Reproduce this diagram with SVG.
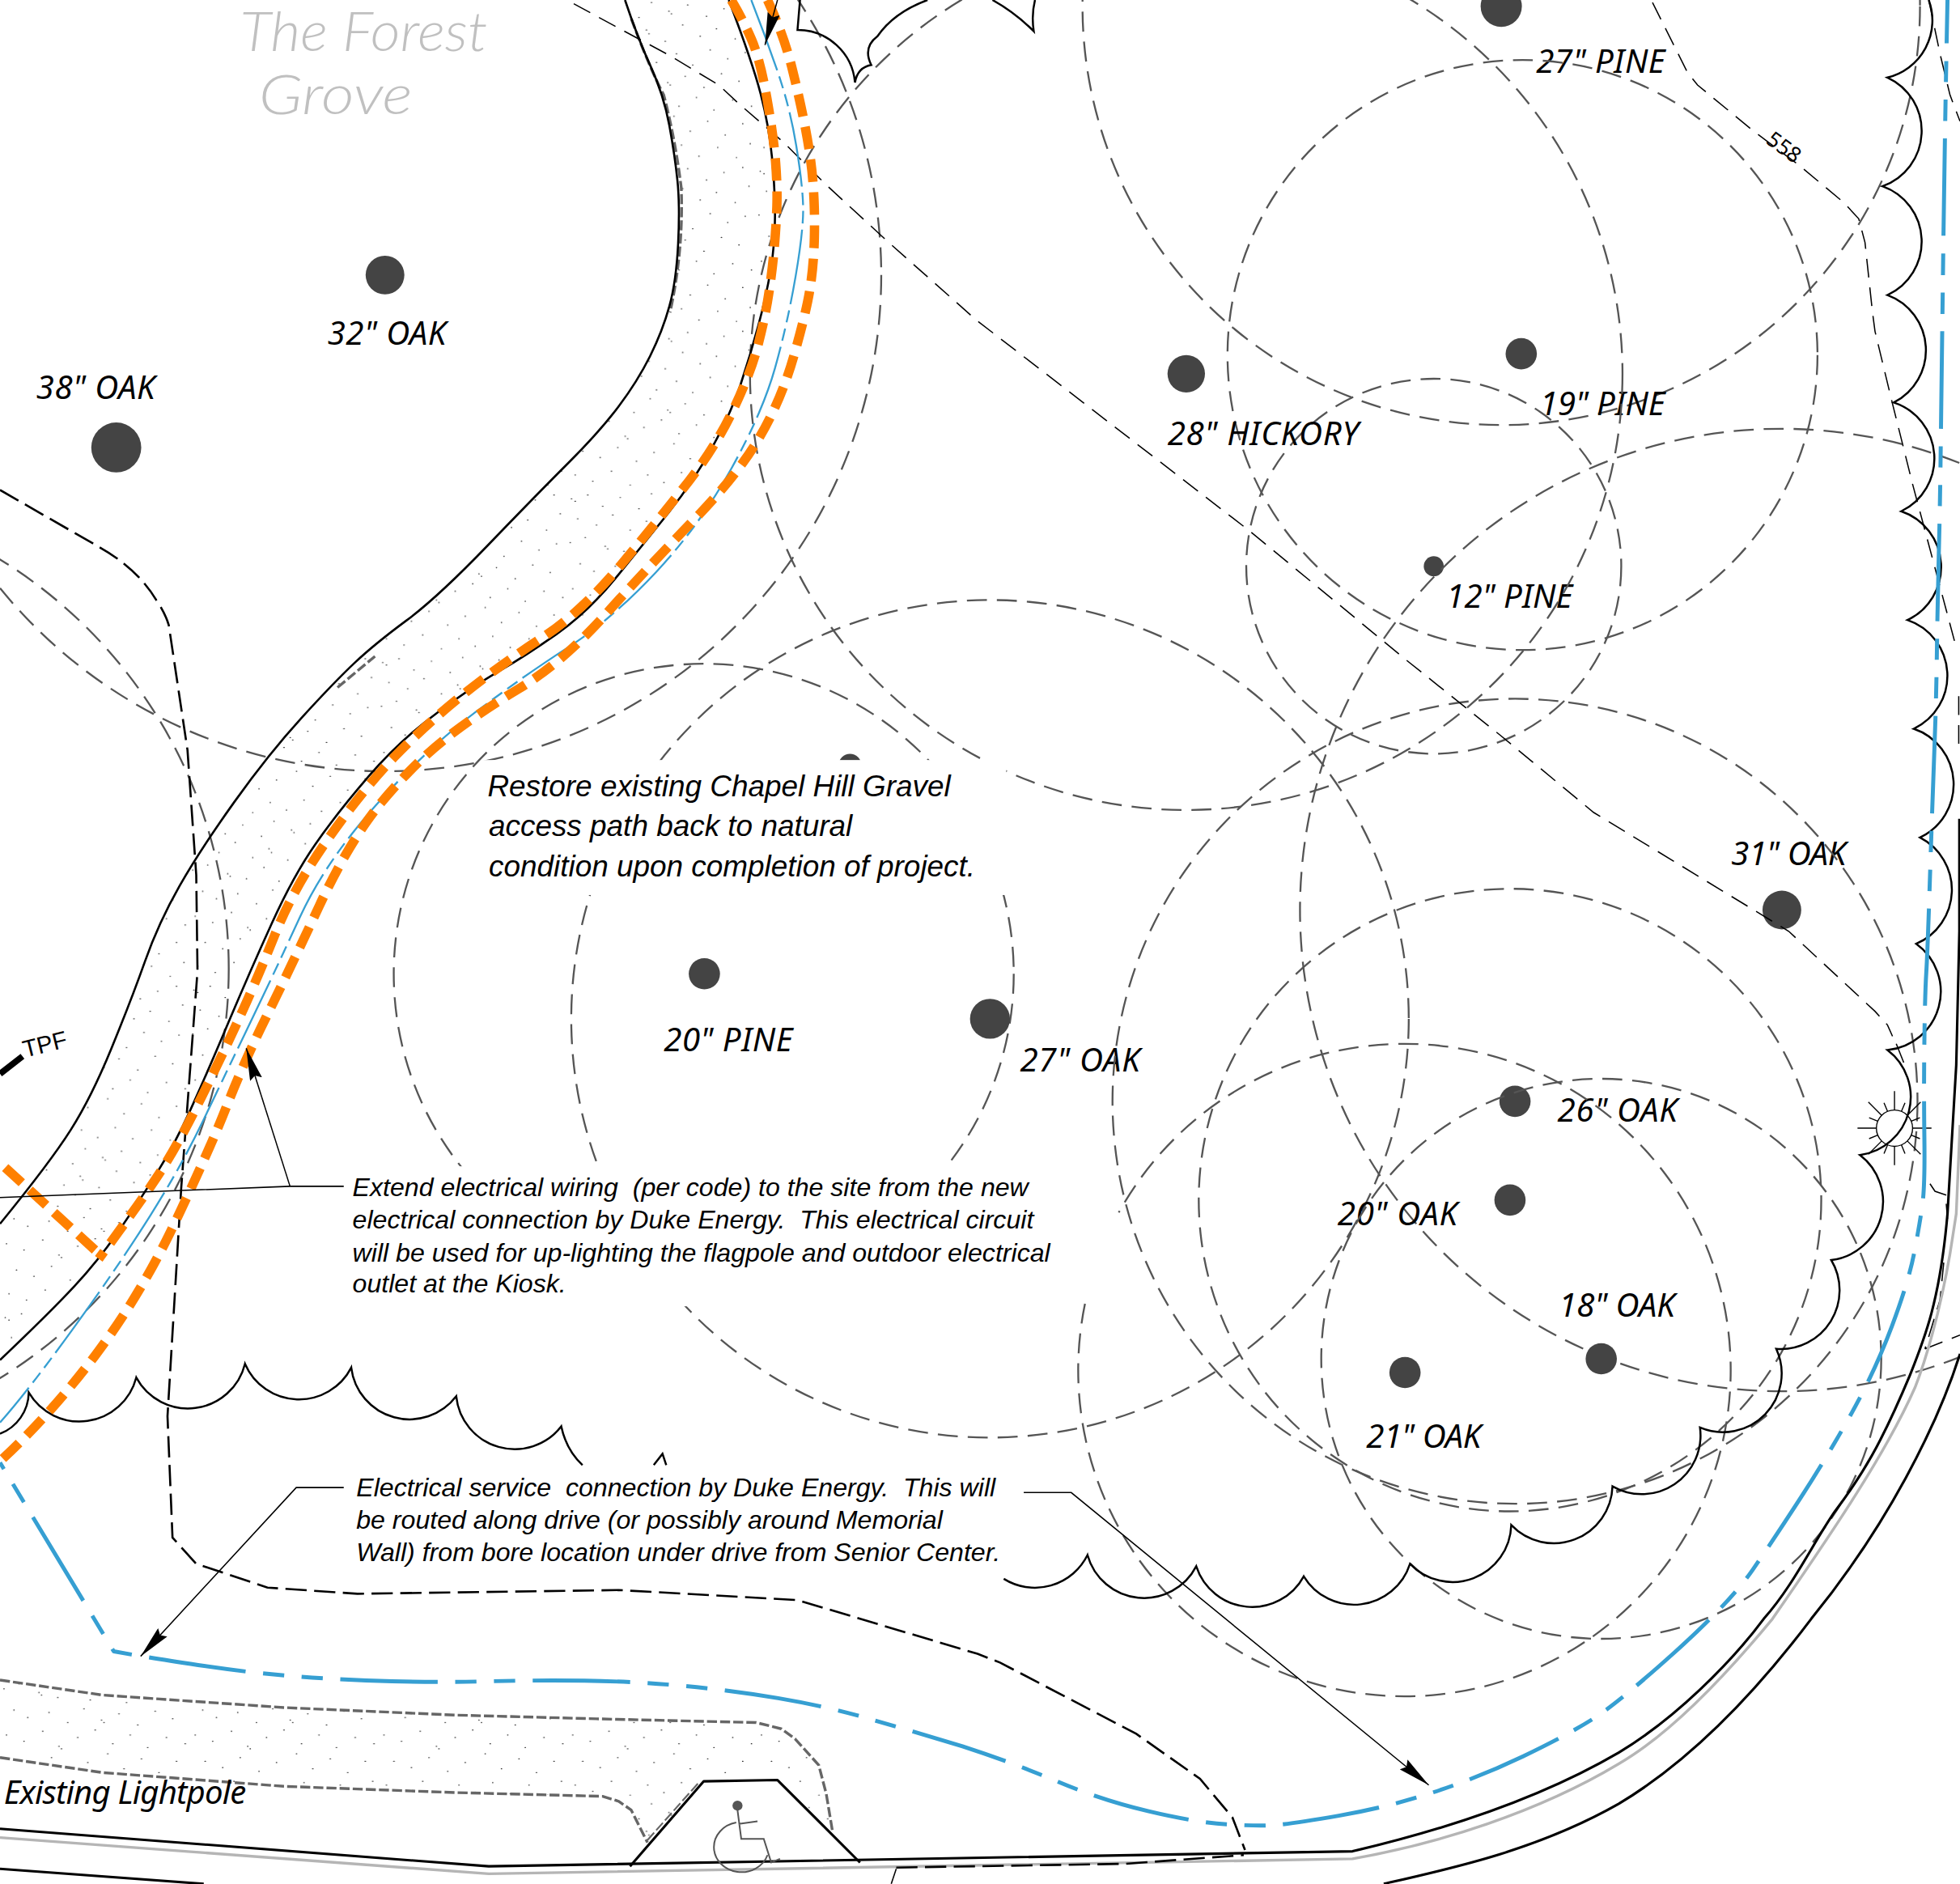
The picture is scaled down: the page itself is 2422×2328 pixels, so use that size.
<svg xmlns="http://www.w3.org/2000/svg" width="2422" height="2328" viewBox="0 0 2422 2328">
<style>
.canopy{fill:none;stroke:#555;stroke-width:1.5;stroke-dasharray:16 8}
.dot{fill:#444}
.label{font-family:"Noto Sans","DejaVu Sans",sans-serif;font-style:italic;font-size:26px;fill:#000}
.note{font-family:"Liberation Sans",Arial,sans-serif;font-style:italic;fill:#000;white-space:pre}
.n1{font-size:23.900px}
.n2{font-size:20.800px}
.title{font-family:"Lato","Liberation Sans",sans-serif;font-style:italic;font-weight:300;font-size:44px;fill:#c0c0c0}
.ln{fill:none;stroke:#000;stroke-linejoin:round}
.road{stroke-width:2}
.greyroad{fill:none;stroke:#b5b5b5;stroke-width:2.2;stroke-linejoin:round}
.contour{fill:none;stroke:#000;stroke-width:1;stroke-dasharray:15 8}
.bound{fill:none;stroke:#000;stroke-width:1.7;stroke-dasharray:17 6}
.scallop{fill:none;stroke:#000;stroke-width:1.6;stroke-linejoin:miter}
.orange{fill:none;stroke:#ff8000;stroke-width:7.500;stroke-dasharray:18 8.500;stroke-linejoin:round}
.blue{fill:none;stroke:#369fd2;stroke-width:3.200;stroke-dasharray:78 14 17 14 17 14;stroke-dashoffset:103;stroke-linejoin:round}
.bluethin{fill:none;stroke:#369fd2;stroke-width:1.500;stroke-dasharray:60 5 10 5 10 5;stroke-linejoin:round}
.edge{fill:none;stroke:#666;stroke-width:2.200;stroke-dasharray:8 2.500;stroke-linejoin:round}
.lead{fill:none;stroke:#000;stroke-width:1}
.arrow{marker-end:url(#ah)}
</style>
<defs>
<marker id="ah" viewBox="0 0 26 10" refX="26" refY="5" markerWidth="26" markerHeight="10" orient="auto" markerUnits="userSpaceOnUse"><polygon points="0,0 26,5 0,10 3,5" fill="#000"/></marker>
<pattern id="stip" width="151" height="131" patternUnits="userSpaceOnUse">
<path d="M4 6h.4M7 8h.4M17 3h.4M29 12h.4M43 5h.4M58 14h.4M68 2h.4M82 9h.4M84 11h.4M97 4h.4M112 13h.4M126 7h.4M141 3h.4M9 22h.4M24 27h.4M37 19h.4M51 31h.4M64 24h.4M66 27h.4M79 33h.4M93 20h.4M107 29h.4M120 23h.4M135 31h.4M146 18h.4M3 41h.4M15 37h.4M31 44h.4M33 46h.4M46 48h.4M60 39h.4M72 50h.4M88 43h.4M101 52h.4M115 40h.4M129 47h.4M143 42h.4M11 58h.4M22 64h.4M39 60h.4M54 68h.4M67 57h.4M81 66h.4M83 68h.4M95 61h.4M110 70h.4M124 59h.4M138 65h.4M5 78h.4M19 83h.4M34 75h.4M47 87h.4M49 89h.4M62 80h.4M76 74h.4M90 85h.4M104 78h.4M118 88h.4M133 80h.4M148 85h.4M13 99h.4M27 104h.4M41 96h.4M56 107h.4M70 100h.4M86 93h.4M99 105h.4M113 97h.4M127 108h.4M141 99h.4M7 118h.4M21 123h.4M36 115h.4M51 126h.4M65 118h.4M78 124h.4M92 116h.4M106 125h.4M121 118h.4M136 126h.4M147 115h.4" stroke="#222" stroke-width=".8" stroke-linecap="round" fill="none"/>
</pattern>
</defs>
<g transform="scale(1.54464)">
<g id="gravel">
<path fill="url(#stip)" d="M500,0 Q510,30 520.500,53 Q531,76 535.500,100.500 Q540,125 542,145 Q544,165 542.500,195 Q541,225 535.500,245 Q530,265 520,285 Q510,305 495,325 Q480,345 455,370 Q430,395 390,436.500 Q350,478 325,496.500 Q300,515 284,530 Q268,545 241.500,574 Q215,603 187.500,641.500 Q160,680 143.500,709 Q127,738 116,769 Q105,800 89,839 Q73,878 56.500,904 Q40,930 0,979V1088L40,1050 79,1008 112,960 140,915 165,860 200,777 235,700 270,650 320,592 380,548 420,525 470,490 515,435 555,385 585,330 600,285 613,237 620,195 620,150 615,100 602,50 583,0Z"/>
<path fill="url(#stip)" d="M0,1344 82,1356 227,1366 364,1372 477,1375 605,1378 636,1391 655,1412 666,1465 622,1424 563,1425 518,1474 505,1448 482,1437 364,1434 227,1429 82,1418 0,1406Z"/>
<path class="edge" d="M0,1344 82,1356 227,1366 364,1372 477,1375 605,1378 625,1383 636,1391 655,1412 661,1435 666,1465"/>
<path class="edge" d="M0,1406 82,1418 227,1429 364,1434 482,1437 495,1441 505,1448 518,1474"/>
<path class="edge" style="stroke-width:1.4" d="M518,1472 559,1426"/>
<path class="edge" d="M505,15 Q520,55 531,76 Q540,110 545,150 Q547,200 536,250"/>
<path class="edge" d="M270,550 300,525"/>
</g>
<g id="trees">
<g id="tree-27-pine-top"><circle class="canopy" cx="1201" cy="5" r="335"/><circle class="dot" cx="1201" cy="5" r="16.500"/><text class="label" x="1229" y="58" textLength="103">27" PINE</text></g>
<g id="tree-19-pine"><circle class="canopy" cx="1218" cy="284" r="236"/><circle class="dot" cx="1217" cy="283" r="12.500"/><text class="label" x="1232" y="332" textLength="100">19" PINE</text></g>
<g id="tree-12-pine"><circle class="canopy" cx="1147" cy="453" r="150"/><circle class="dot" cx="1147" cy="453" r="8"/><text class="label" x="1157" y="486" textLength="101">12" PINE</text></g>
<g id="tree-28-hickory"><circle class="canopy" cx="949" cy="299" r="349"/><circle class="dot" cx="949" cy="299" r="15"/><text class="label" x="934" y="356" textLength="153">28" HICKORY</text></g>
<g id="tree-32-oak"><circle class="canopy" cx="308" cy="220" r="397"/><circle class="dot" cx="308" cy="220" r="15.500"/><text class="label" x="262" y="276" textLength="95">32" OAK</text></g>
<g id="tree-38-oak"><circle class="dot" cx="93" cy="358" r="20"/><text class="label" x="29" y="319" textLength="95">38" OAK</text></g>
<g id="tree-off-west"><circle class="canopy" cx="-201.500" cy="775" r="384.500"/></g>
<g id="tree-20-pine"><circle class="canopy" cx="563" cy="779" r="248"/><circle class="dot" cx="563.500" cy="779" r="12.500"/><text class="label" x="531" y="841" textLength="103">20" PINE</text></g>
<g id="tree-27-oak"><circle class="canopy" cx="792" cy="815" r="335"/><circle class="dot" cx="792" cy="815" r="16"/><text class="label" x="816" y="857" textLength="96">27" OAK</text></g>
<g id="tree-31-oak"><circle class="canopy" cx="1425" cy="728" r="385"/><circle class="dot" cx="1425.500" cy="728" r="15.500"/><text class="label" x="1385" y="692" textLength="92">31" OAK</text></g>
<g id="tree-26-oak"><circle class="canopy" cx="1212" cy="881" r="322"/><circle class="dot" cx="1212" cy="881" r="12.500"/><text class="label" x="1246" y="897" textLength="96">26" OAK</text></g>
<g id="tree-20-oak"><circle class="canopy" cx="1208" cy="960" r="249"/><circle class="dot" cx="1208" cy="960" r="12.500"/><text class="label" x="1070" y="980" textLength="96">20" OAK</text></g>
<g id="tree-18-oak"><circle class="canopy" cx="1281" cy="1087" r="224"/><circle class="dot" cx="1281" cy="1087" r="12.500"/><text class="label" x="1247" y="1053" textLength="93">18" OAK</text></g>
<g id="tree-21-oak"><path class="canopy" d="M868,1043A261 261 0 1 0 895,970"/><circle class="dot" cx="1124" cy="1098" r="12.500"/><text class="label" x="1093" y="1158" textLength="92">21" OAK</text></g>
<g id="tree-hidden"><circle class="dot" cx="680" cy="612" r="9"/></g>
</g>
<rect x="385" y="608" width="420" height="108" fill="#fff"/>
<rect x="275" y="933" width="585" height="112" fill="#fff"/>
<g id="contours">
<path class="contour" d="M459,3 494,22 535,44 575,68 590,82 627,114 660,147 711,194 781,256 1000,425 1125,528 1200,588 1275,650 1431,745 1500,809 1510,820 1514,829"/>
<path class="lead" d="M1517,835 1523,850"/>
<path class="contour" d="M1322,2 1350,58 1358,68 1403,105 1439,132 1475,162 1487,175 1492,194 1498,250 1500,265 1513,319 1530,387 1565,518"/>
<path class="contour" d="M1543,0 1552,43 1560,76 1568,97"/>
<path class="contour" d="M1567,557V597"/>
<path class="lead" d="M1544,947 1548,953 1557,956M1557,963 1558,975"/>
<path class="contour" d="M1555,1010 1552,1040 1540,1079"/>
<path class="contour" d="M1540,1079 1568,1068"/>
<text transform="translate(1412 114) rotate(36)" style="font-family:'Noto Sans',sans-serif;font-size:17px">558</text>
</g>
<g id="road">
<path class="greyroad" d="M1568,900 1565,971 1560,1003C1552,1050 1540,1090 1532,1110 1510,1160 1470,1220 1418,1295 1385,1335 1340,1385 1295,1411 1230,1450 1150,1475 1082,1487L391,1499 0,1470"/>
<path class="ln road" d="M1567.500,655V745L1565,852 1558,971C1552,1040 1540,1070 1528,1100 1505,1155 1490,1180 1468,1209 1450,1235 1435,1268 1411,1295 1385,1330 1340,1375 1295,1402 1230,1440 1150,1465 1082,1481L391,1493 0,1463"/>
<path class="ln road" d="M1568,1083C1550,1140 1510,1220 1449,1295 1400,1360 1350,1410 1295,1443 1230,1480 1160,1495 1107,1507"/>
<path class="ln road" d="M0,1495 163,1507"/>
<path class="ln road" d="M504,1493 563,1425 622,1424 688,1490"/>
<path class="bound" d="M717,1494 900,1491 995,1484"/>
<path class="lead" d="M713,1507 717,1495"/>
</g>
<g id="accessible-symbol" fill="none" stroke="#555" stroke-width="1.3">
<ellipse cx="590" cy="1444.500" rx="4" ry="4" fill="#555" stroke="none"/>
<path d="M590,1448 593,1471H611L617,1490 624,1487M591,1459 606,1457"/>
<path d="M589,1458A22 20 0 1 0 614,1484"/>
</g>
<g id="edges-solid">
<path class="ln" stroke-width="1.7" d="M500,0 Q510,30 520.500,53 Q531,76 535.500,100.500 Q540,125 542,145 Q544,165 542.500,195 Q541,225 535.500,245 Q530,265 520,285 Q510,305 495,325 Q480,345 455,370 Q430,395 390,436.500 Q350,478 325,496.500 Q300,515 284,530 Q268,545 241.500,574 Q215,603 187.500,641.500 Q160,680 143.500,709 Q127,738 116,769 Q105,800 89,839 Q73,878 56.500,904 Q40,930 0,979"/>
<path class="ln" stroke-width="1.7" d="M583,0 Q602,50 608.500,75 Q615,100 617.500,125 Q620,150 620,172.500 Q620,195 616.500,216 Q613,237 606.500,261 Q600,285 592.500,307.500 Q585,330 570,357.500 Q555,385 535,410 Q515,435 492.500,462.500 Q470,490 445,507.500 Q420,525 400,536.500 Q380,548 350,570 Q320,592 295,621 Q270,650 252.500,675 Q235,700 217.500,738.500 Q200,777 182.500,818.500 Q165,860 152.500,887.500 Q140,915 126,937.500 Q112,960 95.500,984 Q79,1008 59.500,1029 Q40,1050 0,1088"/>
<path class="bound" d="M0,392 80,438 Q110,455 125,480 Q132,490 135,500 L150,600 157,700 158,777 145,950 134,1133 138,1230 157,1251 214,1270 286,1275 495,1272 638,1280 782,1323 800,1330 909,1387 960,1423 986,1454 996,1480"/>
</g>
<g id="sun" transform="translate(1515.600 902.500)" fill="#fff" stroke="#000" stroke-width=".9">
<circle r="14.500"/>
<path d="M-29.600 0H-14.500M14.500 0H29.600M0-29.600V-14.500M0 14.500V29.600M-20.900-20.900L-10.250-10.250M20.900-20.900L10.250-10.250M-20.900 20.900L-10.250 10.250M20.900 20.900L10.250 10.250M-20.300-8.400L-13.400-5.550M20.300-8.400L13.400-5.550M-20.300 8.400L-13.400 5.550M20.300 8.400L13.400 5.550M-8.400-20.300L-5.550-13.400M8.400-20.300L5.550-13.400M-8.400 20.300L-5.550 13.400M8.400 20.300L5.550 13.400"/>
</g>
<g id="clouds">
<path class="scallop" d="M0,1147A36 36 0 0 0 23,1114A47 47 0 0 0 109,1102A47 47 0 0 0 196,1091A47 47 0 0 0 281,1094A47 47 0 0 0 365,1117A47 47 0 0 0 449,1141Q453,1160 466,1172"/>
<path class="scallop" d="M523,1172 530,1163 533,1172"/>
<path class="scallop" d="M803,1263A47 47 0 0 0 870,1244A47 47 0 0 0 957,1253A47 47 0 0 0 1043,1261A47 47 0 0 0 1128,1251A47 47 0 0 0 1209,1220A47 47 0 0 0 1290,1189A47 47 0 0 0 1360,1142A47 47 0 0 0 1421,1079A47 47 0 0 0 1465,1008A47 47 0 0 0 1488,924A47 47 0 0 0 1510,840A47 47 0 0 0 1533,755A47 47 0 0 0 1536,670A47 47 0 0 0 1531,583A47 47 0 0 0 1526,496A47 47 0 0 0 1521,409A47 47 0 0 0 1515,322A47 47 0 0 0 1510,236A47 47 0 0 0 1506,149A47 47 0 0 0 1510,62A47 47 0 0 0 1543,0"/>
<path class="scallop" d="M640,0 638,24A46 46 0 0 1 684,66Q686,54 697,52Q690,38 702,29Q715,10 742,0M794,0Q812,10 827,25Q825,12 828,0"/>
</g>
<g id="wiring">
<path class="bluethin" d="M601,0 Q612,28 622,57 Q632,86 637,116.500 Q642,147 642.500,165 Q643,183 636.500,221 Q630,259 620,294.500 Q610,330 585,375 Q560,420 525,457.500 Q490,495 455,517.500 Q420,540 380,570 Q340,600 300,645 Q260,690 240,733.500 Q220,777 200,818.500 Q180,860 162.500,896.500 Q145,933 120.500,972 Q96,1011 59.500,1061.500 Q23,1112 0,1138"/>
<path class="orange" d="M585,0 Q594,15 601,31 Q608,47 613.500,78.500 Q619,110 620.500,130 Q622,150 621.500,165 Q621,180 619.500,197.500 Q618,215 615,235 Q612,255 606,277.500 Q600,300 586,329 Q572,358 551,385 Q530,412 497.500,451 Q465,490 432.500,511 Q400,532 370,556 Q340,580 315,606 Q290,632 262.500,671 Q235,710 220,747.500 Q205,785 190,817.500 Q175,850 157.500,885 Q140,920 125,942.500 Q110,965 79,1007"/>
<path class="orange" d="M614,0 Q627,28 633.500,54 Q640,80 644.500,103.500 Q649,127 650.500,147.500 Q652,168 651.500,190 Q651,212 648,231 Q645,250 635,285 Q625,320 607.500,350 Q590,380 555,416 Q520,452 485,491 Q450,530 415,551 Q380,572 355,592 Q330,612 305,642 Q280,672 255.500,724.500 Q231,777 213,813.500 Q195,850 181.500,884.500 Q168,919 140,978 Q112,1037 76,1084.500 Q40,1132 0,1169"/>
<path class="orange" d="M76,1000 3,933"/>
<path class="blue" d="M0,1170 91,1321 L105,1323.500 Q119,1326 158.500,1332 Q198,1338 236.500,1341 Q275,1344 313.500,1345 Q352,1346 390.500,1345 Q429,1344 467.500,1344.500 Q506,1345 545,1348.500 Q584,1352 622.500,1358.500 Q661,1365 695.500,1375 Q730,1385 770,1397 Q810,1410 845.500,1425 Q881,1440 919,1449 Q957,1458 982.500,1459.500 Q1008,1461 1020.500,1460 Q1033,1459 1071,1452.500 Q1109,1446 1146,1434 Q1183,1422 1218.500,1405 Q1254,1388 1274.500,1375 Q1295,1362 1339.500,1322 Q1384,1282 1402,1256 Q1420,1230 1441,1197.500 Q1462,1165 1481,1131 Q1500,1097 1513.500,1061 Q1527,1025 1531.500,1001.500 Q1536,978 1538,963 Q1540,948 1539.500,910 Q1539,872 1539.500,833 Q1540,794 1541,778.500 Q1542,763 1544,701 Q1546,639 1547.500,600 Q1549,561 1549.500,522.500 Q1550,484 1551,445 Q1552,406 1552.500,365 Q1553,324 1554.500,209.500 Q1556,95 1558,0"/>
</g>
<g id="connectors">
<path class="lead arrow" d="M232,949 197,838.500"/>
<path class="lead" d="M275,949H232L0,958"/>
<path class="lead arrow" d="M275,1190H237L112.500,1325"/>
<path class="lead arrow" d="M819,1194H857L1143,1428"/>
<path class="lead arrow" d="M622,0 612,36"/>
<path class="ln" stroke-width="5" d="M0,859 18,845"/>
</g>
<g id="notes">
<text class="title" x="192" y="41" textLength="198" lengthAdjust="spacingAndGlyphs">The Forest</text>
<text class="title" x="207" y="91" textLength="123" lengthAdjust="spacingAndGlyphs">Grove</text>
<text class="note n1"><tspan x="390" y="637">Restore existing Chapel Hill Gravel</tspan><tspan x="391" y="669">access path back to natural</tspan><tspan x="391" y="701">condition upon completion of project.</tspan></text>
<text class="note n2"><tspan x="282" y="957">Extend electrical wiring  (per code) to the site from the new</tspan><tspan x="282" y="983">electrical connection by Duke Energy.  This electrical circuit</tspan><tspan x="282" y="1009">will be used for up-lighting the flagpole and outdoor electrical</tspan><tspan x="282" y="1034">outlet at the Kiosk.</tspan></text>
<text class="note n2"><tspan x="285" y="1197">Electrical service  connection by Duke Energy.  This will</tspan><tspan x="285" y="1223">be routed along drive (or possibly around Memorial</tspan><tspan x="285" y="1249">Wall) from bore location under drive from Senior Center.</tspan></text>
<text class="label" x="3" y="1443" textLength="194">Existing Lightpole</text>
<text transform="translate(20 846) rotate(-14)" style="font-family:'Liberation Sans',sans-serif;font-size:19px">TPF</text>
</g>
</g>
</svg>
